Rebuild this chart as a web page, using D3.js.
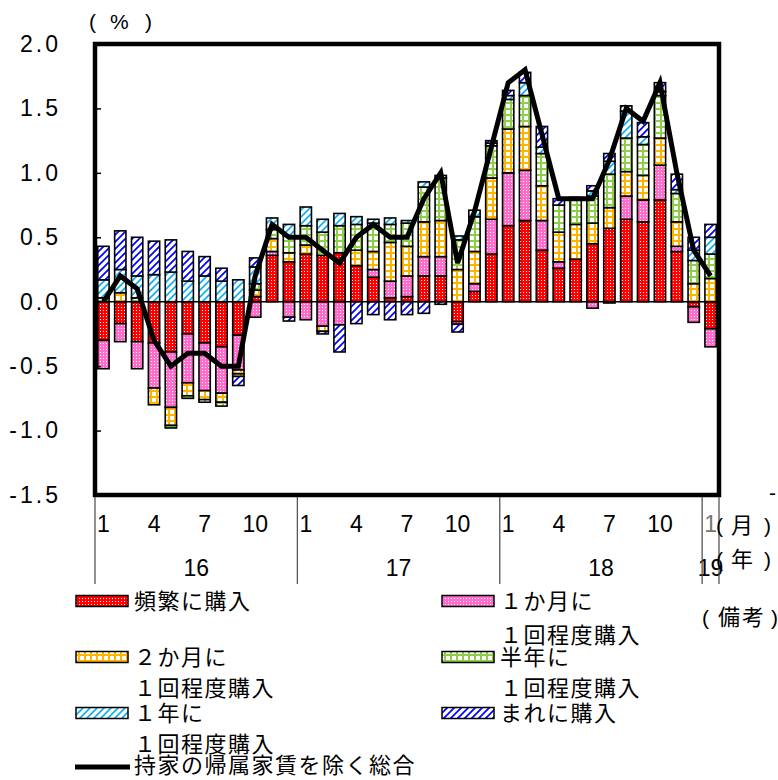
<!DOCTYPE html>
<html><head><meta charset="utf-8">
<script src="https://cdn.jsdelivr.net/npm/d3@7"></script>
<style>
html,body{margin:0;padding:0;background:#fff;}
svg{display:block;}
</style></head>
<body>
<svg id="chart" width="778" height="780"></svg>
<script>
// ---- data ----
const years  = [2016,2016,2016,2016,2016,2016,2016,2016,2016,2016,2016,2016,
                2017,2017,2017,2017,2017,2017,2017,2017,2017,2017,2017,2017,
                2018,2018,2018,2018,2018,2018,2018,2018,2018,2018,2018,2018,
                2019];
const months = [1,2,3,4,5,6,7,8,9,10,11,12,
                1,2,3,4,5,6,7,8,9,10,11,12,
                1,2,3,4,5,6,7,8,9,10,11,12,
                1];
const monthTicks = [1,4,7,10];
const yearLabels = ["16","17","18","19"];
const yTicks = [-1.5,-1.0,-0.5,0.0,0.5,1.0,1.5,2.0];

const seriesNames = ["頻繁に購入","１か月に１回程度購入","２か月に１回程度購入","半年に１回程度購入","１年に１回程度購入","まれに購入"];
const frequent = [-0.30,-0.17,-0.31,-0.32,-0.39,-0.25,-0.32,-0.35,-0.26,0.04,0.36,0.31,
                  0.37,0.36,0.38,0.28,0.19,0.03,0.04,0.20,0.20,-0.155,0.08,0.37,
                  0.59,0.63,0.40,0.26,0.33,0.45,0.57,0.64,0.62,0.79,0.39,-0.04,
                  -0.21];
const monthly  = [-0.22,-0.14,-0.21,-0.35,-0.43,-0.38,-0.37,-0.36,-0.27,-0.12,0.03,-0.12,
                  -0.14,-0.19,-0.18,0,0.06,0.13,0.16,0.15,0.15,-0.02,0.06,0.27,
                  0.41,0.39,0.23,0.05,0,-0.05,-0.01,0.18,0.17,0.27,0.04,-0.12,
                  -0.14];
const bimonthly= [0,0.07,0,-0.13,-0.14,-0.10,-0.07,-0.07,-0.03,0.05,0.10,0.07,
                  0.07,-0.04,0,0.12,0.14,0.30,0.23,0.27,0.28,0.25,0.25,0.32,
                  0.34,0.34,0.27,0.23,0.27,0.16,0.16,0.19,0.19,0.21,0.19,0.14,
                  0.18];
const halfYear = [0.03,0,0.03,0,-0.02,-0.02,-0.02,-0.03,-0.02,0.05,0.07,0.13,
                  0.15,0.18,0.21,0.20,0.22,0.14,0.18,0.27,0.33,0.23,0.27,0.25,
                  0.23,0.24,0.25,0.21,0.19,0.21,0.26,0.26,0.24,0.33,0.22,0.18,
                  0.19];
const yearly   = [0.14,0.18,0.17,0.21,0.23,0.16,0.20,0.16,0.17,0.13,0.09,0.09,
                  0.145,0.10,0.095,0.06,0.03,0.05,0.02,0.04,0.02,0.03,0.05,0.02,
                  0.03,0.10,0.05,0,0.02,0.04,0.10,0.21,0.06,0.03,0.03,0.08,
                  0.13];
const rarely   = [0.26,0.30,0.30,0.26,0.25,0.23,0.15,0.10,-0.07,0.07,0,-0.03,
                  0,-0.02,-0.21,-0.17,-0.10,-0.14,-0.10,-0.09,-0.02,-0.06,0,0.02,
                  0.04,0.08,0.16,0.05,0,0.04,0.06,0.04,0.11,0.07,0.12,0.10,
                  0.10];
const total    = [0.0,0.2,0.1,-0.3,-0.5,-0.4,-0.4,-0.5,-0.5,0.2,0.6,0.5,
                  0.5,0.4,0.3,0.5,0.6,0.5,0.5,0.8,1.0,0.3,0.7,1.2,
                  1.7,1.8,1.3,0.8,0.8,0.8,1.1,1.5,1.4,1.7,1.0,0.4,
                  0.2];
const lineName = "持家の帰属家賃を除く総合";

// ---- setup ----
const svg = d3.select("#chart");
const L = 95, R = 719, T = 44, B = 495;
const keys = ["frequent","monthly","bimonthly","halfYear","yearly","rarely"];
const seriesData = [frequent, monthly, bimonthly, halfYear, yearly, rarely];
const rows = months.map((m,i) => {
  const o = {i};
  keys.forEach((k,j) => o[k] = seriesData[j][i]);
  return o;
});

const x = d3.scaleBand().domain(d3.range(months.length)).range([L,R])
  .paddingInner(0.33).paddingOuter(0.165);
const y = d3.scaleLinear().domain([-1.5,2.0]).range([B,T]);

// ---- patterns ----
const defs = svg.append("defs");
function dotPattern(id, color){
  const p = defs.append("pattern").attr("id",id).attr("patternUnits","userSpaceOnUse")
    .attr("width",3).attr("height",3);
  p.append("rect").attr("width",3).attr("height",3).attr("fill",color).attr("shape-rendering","crispEdges");
  p.append("rect").attr("x",1).attr("y",1).attr("width",1).attr("height",1).attr("fill","#fff").attr("shape-rendering","crispEdges");
}
function gridPattern(id, color){
  const p = defs.append("pattern").attr("id",id).attr("patternUnits","userSpaceOnUse")
    .attr("width",6).attr("height",6);
  p.append("rect").attr("width",6).attr("height",6).attr("fill","#fff").attr("shape-rendering","crispEdges");
  p.append("rect").attr("width",6).attr("height",2).attr("fill",color).attr("shape-rendering","crispEdges");
  p.append("rect").attr("width",2).attr("height",6).attr("fill",color).attr("shape-rendering","crispEdges");
}
function diagPattern(id, color){
  const p = defs.append("pattern").attr("id",id).attr("patternUnits","userSpaceOnUse")
    .attr("width",7).attr("height",7);
  p.append("rect").attr("width",7).attr("height",7).attr("fill","#fff");
  p.append("path").attr("d","M0,7L7,0M-1,1L1,-1M6,8L8,6")
    .attr("stroke",color).attr("stroke-width",1.7);
}
dotPattern("pRed","#ff0000");
dotPattern("pPink","#ff6ccc");
gridPattern("pOrange","#ffb400");
gridPattern("pGreen","#8fce4a");
diagPattern("pCyan","#10b0f0");
diagPattern("pBlue","#0000ff");
const fills = ["url(#pRed)","url(#pPink)","url(#pOrange)","url(#pGreen)","url(#pCyan)","url(#pBlue)"];

// ---- bars ----
const stack = d3.stack().keys(keys).offset(d3.stackOffsetDiverging);
const stacked = stack(rows);
const barG = svg.append("g");
stacked.forEach((layer, j) => {
  barG.selectAll(null).data(layer.filter(d => d[1] !== d[0])).enter().append("rect")
    .attr("x", d => x(d.data.i))
    .attr("width", x.bandwidth())
    .attr("y", d => y(Math.max(d[0],d[1])))
    .attr("height", d => Math.abs(y(d[0]) - y(d[1])))
    .attr("fill", fills[j])
    .attr("stroke","#000").attr("stroke-width",1.6);
});

// zero line
svg.append("line").attr("x1",L).attr("x2",R).attr("y1",y(0)).attr("y2",y(0))
  .attr("stroke","#000").attr("stroke-width",1.5);

// total line
const line = d3.line().x((d,i) => x(i) + x.bandwidth()/2).y(d => y(d));
svg.append("path").datum(total).attr("d", line)
  .attr("fill","none").attr("stroke","#000").attr("stroke-width",5)
  .attr("stroke-linejoin","miter");

// y axis
const yAxis = d3.axisLeft(y).tickValues(yTicks).tickFormat(d => d.toFixed(1))
  .tickSizeInner(-6).tickSizeOuter(0).tickPadding(34);
const ya = svg.append("g").attr("transform",`translate(${L},0)`).call(yAxis);
ya.select(".domain").remove();
ya.selectAll(".tick line").attr("stroke","#000").attr("stroke-width",1.5);
ya.selectAll(".tick text").attr("font-family","'Liberation Sans', Arial, sans-serif")
  .attr("font-size",23).attr("fill","#000").attr("letter-spacing","3px");

// border
svg.append("rect").attr("x",L).attr("y",T).attr("width",R-L).attr("height",B-T)
  .attr("fill","none").attr("stroke","#000").attr("stroke-width",4.5);

// x labels
const xl = svg.append("g").attr("font-family","'Liberation Sans', Arial, sans-serif")
  .attr("font-size",23).attr("fill","#000").attr("text-anchor","middle");
months.forEach((m,i) => {
  if (monthTicks.includes(m)) {
    xl.append("text").attr("x", x(i)+x.bandwidth()/2).attr("y",532).text(String(m))
      .attr("fill", i === months.length-1 ? "#777" : "#000");
  }
});
// year groups
const yearStarts = [];
years.forEach((yv,i) => { if (i===0 || years[i-1] !== yv) yearStarts.push(i); });
const step = x.step();
const sepG = svg.append("g").attr("stroke","#555").attr("stroke-width",1.3);
yearStarts.concat([years.length]).forEach(i => {
  const xx = L + step*i;
  sepG.append("line").attr("x1",xx).attr("x2",xx).attr("y1",B+2).attr("y2",584);
});
yearStarts.forEach((s,k) => {
  const e = k < yearStarts.length-1 ? yearStarts[k+1] : years.length;
  xl.append("text").attr("x", L + step*(s+e)/2).attr("y",576).text(yearLabels[k]);
});

// unit / axis captions
const cap = svg.append("g").attr("fill","#000");
function paren(g, y0, parts){
  const t = g.append("text").attr("y",y0);
  parts.forEach(p => t.append("tspan").attr("x",p[0]).text(p[1])
    .attr("font-family", p[2] ? "'Noto Sans CJK JP', sans-serif" : "'Liberation Sans', Arial, sans-serif")
    .attr("font-size", p[2] ? 22 : 21));
}
paren(cap, 29, [[89,"("],[110,"%"],[145,")"]]);
paren(cap, 533, [[716,"("],[731,"月",1],[764,")"]]);
paren(cap, 567, [[716,"("],[731,"年",1],[764,")"]]);
paren(cap, 625, [[702,"("],[718,"備",1],[742,"考",1],[771,")"]]);
cap.append("text").attr("x",769).attr("y",500).text("-")
  .attr("font-family","'Liberation Sans', Arial, sans-serif").attr("font-size",21);

// legend
const lg = svg.append("g").attr("font-family","'Noto Sans CJK JP', sans-serif")
  .attr("font-size",22).attr("letter-spacing","1.5px").attr("fill","#000");
const legendItems = [
  {j:0, sx:76,  cy:601, lines:[["頻繁に購入",601]], tx:134},
  {j:1, sx:442, cy:601, lines:[["１か月に",601],["１回程度購入",635]], tx:500},
  {j:2, sx:76,  cy:657, lines:[["２か月に",657],["１回程度購入",688]], tx:134},
  {j:3, sx:442, cy:657, lines:[["半年に",657],["１回程度購入",688]], tx:500},
  {j:4, sx:76,  cy:713, lines:[["１年に",713],["１回程度購入",744]], tx:134},
  {j:5, sx:442, cy:713, lines:[["まれに購入",713]], tx:500}
];
legendItems.forEach(it => {
  lg.append("rect").attr("x",it.sx).attr("y",it.cy-5.5).attr("width",52).attr("height",11)
    .attr("fill",fills[it.j]).attr("stroke","#000").attr("stroke-width",1.5);
  it.lines.forEach(l => lg.append("text").attr("x",it.tx).attr("y",l[1]+8.4).text(l[0]));
});
lg.append("line").attr("x1",75).attr("x2",130).attr("y1",767).attr("y2",767)
  .attr("stroke","#000").attr("stroke-width",5);
lg.append("text").attr("x",134).attr("y",765+8.4).text(lineName);
</script>
</body></html>
